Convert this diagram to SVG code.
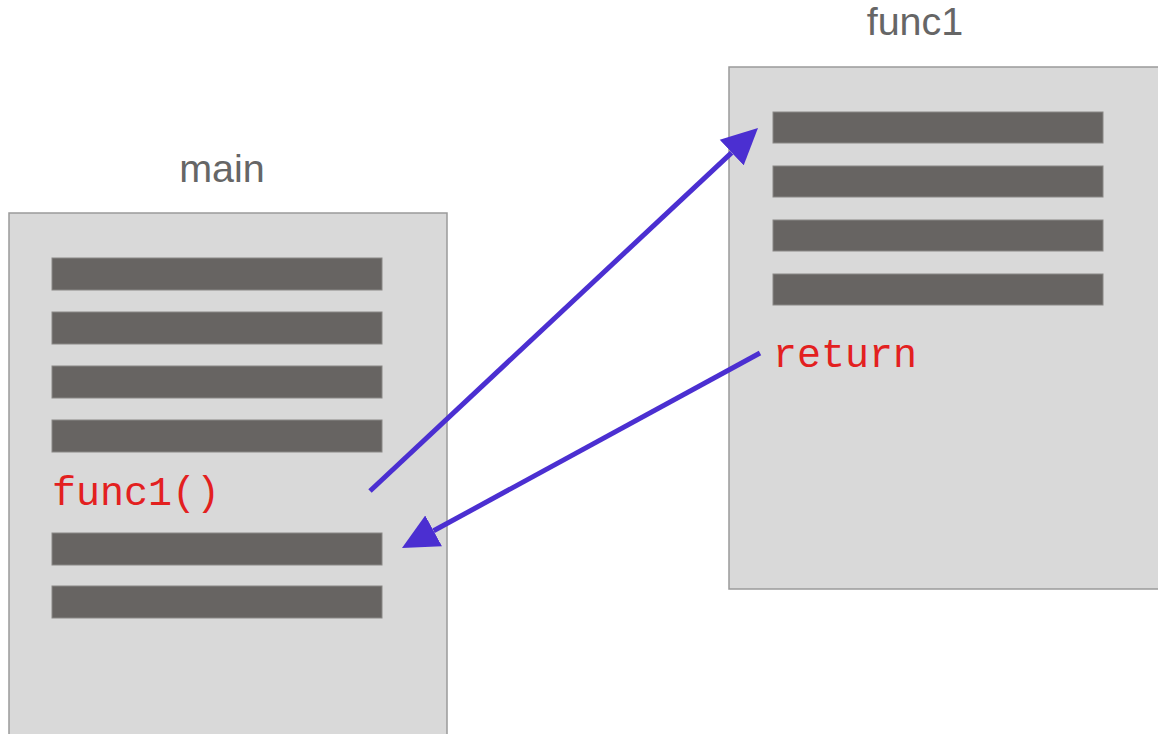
<svg xmlns="http://www.w3.org/2000/svg" width="1158" height="734" viewBox="0 0 1158 734">
<style>
.box{fill:#d9d9d9;stroke:#9a9a9a;stroke-width:1.5}
.bar{fill:#676462;stroke:#8a8886;stroke-width:1}
.title{font-family:"Liberation Sans",Arial,sans-serif;font-size:39.5px;fill:#666666}
.code{font-family:"Liberation Mono","Courier New",monospace;font-size:40px;fill:#e3201f}
.conn{stroke:#4b2fd1;stroke-width:5;fill:none}
</style>
<defs>
<marker id="ah" markerUnits="userSpaceOnUse" viewBox="0 -18 36 36" markerWidth="36" markerHeight="36" refX="0" refY="0" orient="auto">
<path d="M0,-17.5 L36,0 L0,17.5 z" fill="#4b2fd1"/>
</marker>
</defs>
<rect width="1158" height="734" fill="#ffffff"/>
<g id="main">
<text class="title" x="222" y="182" text-anchor="middle">main</text>
<rect class="box" x="9" y="213" width="438" height="530"/>
<rect class="bar" x="52" y="258" width="330" height="32"/>
<rect class="bar" x="52" y="312" width="330" height="32"/>
<rect class="bar" x="52" y="366" width="330" height="32"/>
<rect class="bar" x="52" y="420" width="330" height="32"/>
<text class="code" x="52" y="505">func1()</text>
<rect class="bar" x="52" y="533" width="330" height="32"/>
<rect class="bar" x="52" y="586" width="330" height="32"/>
</g>
<g id="func1">
<text class="title" x="915" y="35" text-anchor="middle">func1</text>
<rect class="box" x="729" y="67" width="440" height="522"/>
<rect class="bar" x="773" y="112" width="330" height="31"/>
<rect class="bar" x="773" y="166" width="330" height="31"/>
<rect class="bar" x="773" y="220" width="330" height="31"/>
<rect class="bar" x="773" y="274" width="330" height="31"/>
<text class="code" x="773" y="367">return</text>
</g>
<g id="connectors">
<path class="conn" d="M370,491 L731.7,152.6" marker-end="url(#ah)"/>
<path class="conn" d="M760,353 L433.6,530.8" marker-end="url(#ah)"/>
</g>
</svg>
